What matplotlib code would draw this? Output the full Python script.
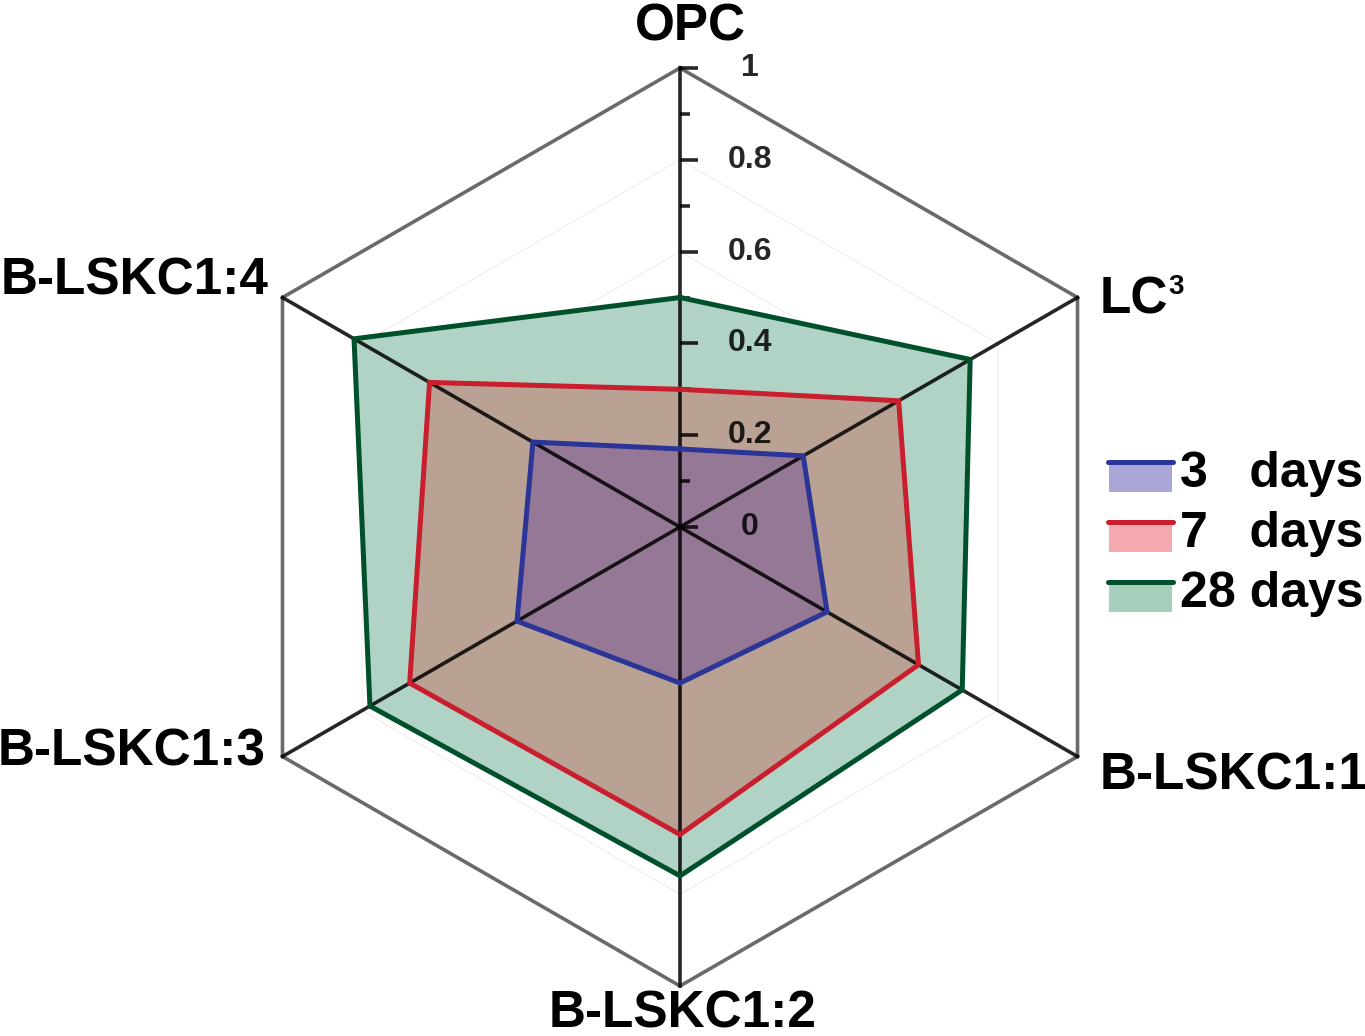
import matplotlib
matplotlib.use("Agg")
import numpy as np
import matplotlib.pyplot as plt
from matplotlib.patches import Patch, Rectangle
from matplotlib.lines import Line2D
from matplotlib.legend_handler import HandlerBase

plt.rcParams["font.family"] = ["Liberation Sans", "DejaVu Sans"]
plt.rcParams["font.weight"] = "bold"

# data
categories = ["OPC", "LC", "B-LSKC1:1", "B-LSKC1:2", "B-LSKC1:3", "B-LSKC1:4"]
days3 = [0.17, 0.31, 0.37, 0.34, 0.41, 0.37]
days7 = [0.30, 0.55, 0.60, 0.67, 0.68, 0.63]
days28 = [0.50, 0.73, 0.71, 0.76, 0.78, 0.82]
series_labels = ["3   days", "7   days", "28 days"]
r_ticks = [0, 0.2, 0.4, 0.6, 0.8, 1.0]
r_ticklabels = ["0", "0.2", "0.4", "0.6", "0.8", "1"]
r_minor = [0.1, 0.3, 0.5, 0.7, 0.9]

line_colors = ["#2b3597", "#c81e2e", "#00502c"]
# composite colours seen in the chart (drawn opaque, back to front)
fill_colors = ["#957896", "#b9a193", "#b1d3c5"]
# colours of the legend patches
legend_fill = ["#a9a7d8", "#f4a9ae", "#a6cfbb"]

n = len(categories)
theta = np.deg2rad(90 - 60 * np.arange(n))


def xy(vals):
    v = np.asarray(vals, dtype=float)
    x = v * np.cos(theta)
    y = v * np.sin(theta)
    return np.append(x, x[0]), np.append(y, y[0])


class LineOverPatch(HandlerBase):
    def create_artists(self, legend, orig_handle, xdescent, ydescent,
                       width, height, fontsize, trans):
        top = height * 0.8
        rect = Rectangle((-xdescent + 1, top - height * 0.95), width - 2, height * 0.95,
                         facecolor=orig_handle.get_facecolor(), edgecolor="none",
                         transform=trans)
        ln = Line2D([-xdescent, -xdescent + width], [top, top],
                    color=orig_handle.get_edgecolor(), lw=3.6,
                    solid_capstyle="round", transform=trans)
        return [rect, ln]


fig = plt.figure(figsize=(13.65, 10.36), dpi=100)
ax = fig.add_axes([0, 0, 1, 1])
R = 459.0
ax.set_xlim(-680 / R, (1365 - 680) / R)
ax.set_ylim(-(1036 - 527) / R, 527 / R)
ax.axis("off")

# faint inner grid
for g in [0.2, 0.4, 0.6, 0.8]:
    gx, gy = xy([g] * n)
    ax.plot(gx, gy, color="#f1ecea", lw=0.8, zorder=1)

# outer frame
ox, oy = xy([1.0] * n)
ax.plot(ox, oy, color="#6a6a6a", lw=2.6, zorder=2, solid_joinstyle="miter")

# fills, back to front
vals = [days3, days7, days28]
for i in [2, 1, 0]:
    fx, fy = xy(vals[i])
    ax.fill(fx, fy, color=fill_colors[i], zorder=3 + (2 - i) * 0.1, lw=0)

# spokes
for t in theta:
    ax.plot([0, np.cos(t)], [0, np.sin(t)], color="black", alpha=0.85,
            lw=2.6, zorder=4)

# series outlines
for i in [2, 1, 0]:
    fx, fy = xy(vals[i])
    ax.plot(fx, fy, color=line_colors[i], lw=3.6, zorder=5,
            solid_joinstyle="miter")

# radial ticks on the OPC spoke
for rt, lab in zip(r_ticks, r_ticklabels):
    ax.plot([0, 18 / R], [rt, rt], color="black", alpha=0.85, lw=2.6,
            zorder=4, solid_capstyle="butt")
    ax.text(70 / R, rt, lab, ha="center", va="center", fontsize=23,
            color="black", alpha=0.85, zorder=4)
for rt in r_minor:
    ax.plot([0, 10 / R], [rt, rt], color="black", alpha=0.85, lw=2.6,
            zorder=4, solid_capstyle="butt")

# category labels
lab_fs = 37
ax.text(10 / R, (527 - 27) / R, categories[0], ha="center", va="center", fontsize=lab_fs)
lc = ax.text(np.cos(theta[1]) + 22 / R, np.sin(theta[1]) - 2 / R, categories[1],
             ha="left", va="center", fontsize=lab_fs)
ax.annotate("3", xy=(1, 1), xycoords=lc, xytext=(0.5, 1), textcoords="offset points",
            ha="left", va="top", fontsize=20)
ax.text(np.cos(theta[2]) + 22 / R, np.sin(theta[2]) - 20 / R, categories[2],
        ha="left", va="center", fontsize=lab_fs)
ax.text(3 / R, (527 - 1014) / R, categories[3], ha="center", va="center", fontsize=lab_fs)
ax.text(np.cos(theta[4]) - 17 / R, np.sin(theta[4]) + 5 / R, categories[4],
        ha="right", va="center", fontsize=lab_fs)
ax.text(np.cos(theta[5]) - 14 / R, np.sin(theta[5]) + 16 / R, categories[5],
        ha="right", va="center", fontsize=lab_fs)

# legend
handles = [Patch(facecolor=legend_fill[i], edgecolor=line_colors[i]) for i in range(3)]
ax.legend(handles, series_labels, handler_map={Patch: LineOverPatch()},
          loc="upper left", bbox_to_anchor=(1108 / 1365, 1 - 451 / 1036),
          bbox_transform=fig.transFigure, frameon=False, fontsize=36,
          handlelength=1.3, handleheight=0.6, handletextpad=0.15,
          labelspacing=0.28, borderpad=0, borderaxespad=0)

fig.savefig("out.png", dpi=100)
